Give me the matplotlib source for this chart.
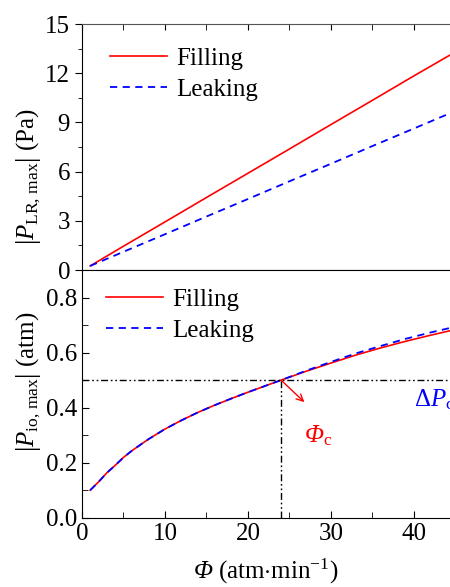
import matplotlib
matplotlib.use("Agg")
import matplotlib.pyplot as plt
from matplotlib.ticker import MultipleLocator, FormatStrFormatter

plt.rcParams['font.family'] = ['Liberation Serif', 'DejaVu Serif']
plt.rcParams['mathtext.fontset'] = 'custom'
plt.rcParams['mathtext.rm'] = 'Liberation Serif'
plt.rcParams['mathtext.it'] = 'Liberation Serif:italic'
plt.rcParams['font.size'] = 18

# ---- data ----
phi_top = [1, 5, 10, 15, 20, 25, 30, 35, 40, 45]
lr_filling = [0.25, 1.45, 2.93, 4.42, 5.90, 7.38, 8.87, 10.35, 11.84, 13.30]
lr_leaking = [0.25, 1.11, 2.18, 3.26, 4.33, 5.41, 6.48, 7.56, 8.63, 9.70]

phi_bot = [1, 2, 3, 4, 5, 6, 8, 10, 12, 14, 16, 18, 20, 22, 24, 27, 30, 33, 36, 39, 42, 45]
io_filling = [0.100, 0.130, 0.163, 0.190, 0.219, 0.243, 0.285, 0.322, 0.354, 0.383,
              0.409, 0.433, 0.456, 0.478, 0.500, 0.532, 0.562, 0.591, 0.617, 0.641, 0.663, 0.684]
io_leaking = [0.100, 0.130, 0.163, 0.190, 0.219, 0.243, 0.285, 0.322, 0.354, 0.383,
              0.409, 0.433, 0.456, 0.478, 0.500, 0.534, 0.566, 0.597, 0.624, 0.650, 0.673, 0.694]
phi_c = 24
dp_c = 0.5

RED = '#ff0000'
BLUE = '#0000ff'
xmax = 44.35

fig = plt.figure(figsize=(4.5, 5.87), dpi=100)
ax1 = fig.add_axes([0.182, 0.540, 0.818, 0.419])
ax2 = fig.add_axes([0.182, 0.118, 0.818, 0.422])

# ---- top panel ----
ax1.plot(phi_top, lr_filling, color=RED, lw=1.2, label='Filling')
ax1.plot(phi_top, lr_leaking, color=BLUE, lw=1.3, dashes=(4, 3), label='Leaking')
ax1.set_xlim(0, xmax)
ax1.set_ylim(0, 15)
ax1.yaxis.set_major_locator(MultipleLocator(3))
ax1.yaxis.set_minor_locator(MultipleLocator(1.5))
ax1.xaxis.set_major_locator(MultipleLocator(10))
ax1.xaxis.set_minor_locator(MultipleLocator(5))
ax1.tick_params(axis='y', which='both', direction='out', left=True, right=False)
ax1.tick_params(axis='y', which='major', length=5)
ax1.tick_params(axis='y', which='minor', length=3)
ax1.tick_params(axis='x', which='both', direction='in', top=True, bottom=False,
                labelbottom=False, length=4)
ax1.spines['right'].set_visible(False)
ax1.spines['top'].set_color('#555555')
ax1.set_ylabel(r'$\left|\mathit{P}_{\mathrm{LR,\,max}}\right|$ (Pa)', fontsize=18)
ax1.yaxis.set_label_coords(-0.105, 0.38)
ax1.legend(loc='upper left', bbox_to_anchor=(0.075, 0.905), frameon=False,
           handlelength=2.3, handletextpad=0.35, labelspacing=0.33,
           borderpad=0, borderaxespad=0, fontsize=18)

# ---- bottom panel ----
ax2.plot(phi_bot, io_filling, color=RED, lw=1.2, label='Filling')
ax2.plot(phi_bot, io_leaking, color=BLUE, lw=1.3, dashes=(4, 3), label='Leaking')
ax2.axhline(dp_c, color='black', lw=1.0, dashes=(5, 2, 1.2, 2, 1.2, 2))
ax2.plot([phi_c, phi_c], [0, dp_c], color='black', lw=1.0, dashes=(5, 2, 1.2, 2, 1.2, 2))
ax2.annotate('', xy=(26.8, 0.42), xytext=(phi_c, dp_c),
             arrowprops=dict(arrowstyle='->', color=RED, lw=1.0, shrinkA=0, shrinkB=0,
                             mutation_scale=12))
ax2.text(26.7, 0.272, r'Φ$_{\mathrm{c}}$', color=RED, fontsize=18, style='italic')
ax2.text(40.0, 0.405, r'$\Delta\mathit{P}_{\mathrm{c}}$', color=BLUE, fontsize=18)

ax2.set_xlim(0, xmax)
ax2.set_ylim(0, 0.9)
ax2.yaxis.set_major_locator(MultipleLocator(0.2))
ax2.yaxis.set_minor_locator(MultipleLocator(0.1))
ax2.xaxis.set_major_locator(MultipleLocator(10))
ax2.xaxis.set_minor_locator(MultipleLocator(5))
ax2.yaxis.set_major_formatter(FormatStrFormatter('%.1f'))
ax2.tick_params(axis='both', which='both', direction='in', top=False, right=False)
ax2.tick_params(axis='both', which='major', length=5)
ax2.tick_params(axis='both', which='minor', length=4)
ax2.spines['right'].set_visible(False)
ax2.set_ylabel(r'$\left|\mathit{P}_{\mathrm{io,\,max}}\right|$ (atm)', fontsize=18)
ax2.yaxis.set_label_coords(-0.105, 0.55)
ax2.set_xlabel(r'Φ$\mathrm{\ (atm{\cdot}min^{-1})}$', fontsize=18, style='italic', labelpad=9)
ax2.legend(loc='upper left', bbox_to_anchor=(0.065, 0.925), frameon=False,
           handlelength=2.3, handletextpad=0.35, labelspacing=0.33,
           borderpad=0, borderaxespad=0, fontsize=18)

fig.savefig('out.png', dpi=100)
